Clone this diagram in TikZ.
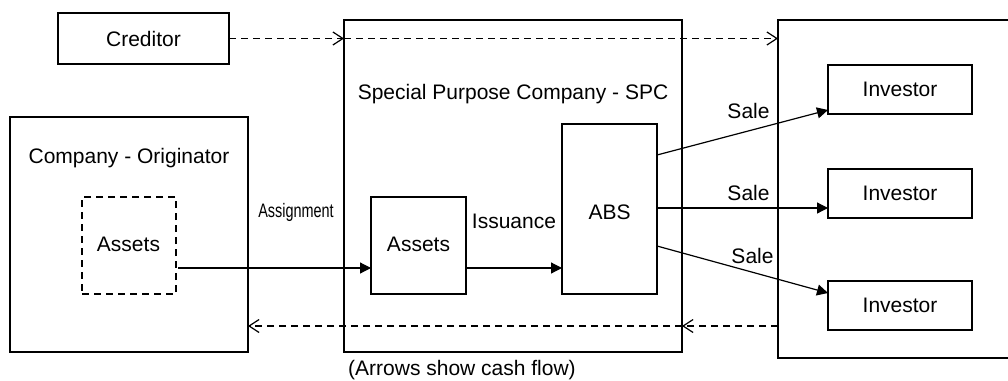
\documentclass[tikz,border=0pt]{standalone}
\usepackage{fontspec}
\setmainfont{Liberation Sans}
\usetikzlibrary{arrows.meta,calc}
\begin{document}
\begin{tikzpicture}[x=1pt,y=-1pt,
  every node/.style={font=\fontsize{21}{25}\selectfont},
  box/.style={draw,line width=1.2pt,inner sep=0pt,outer sep=0pt},
  lbl/.style={anchor=base,inner sep=0pt},
  flow/.style={line width=1.2pt,-{Triangle[length=11pt,width=11pt]}},
  cash/.style={line width=1.2pt,dash pattern=on 7pt off 5pt,-{Straight Barb[length=10pt,width=13pt]}}]
\clip (0,0) rectangle (1008,380);
\useasboundingbox (0,0) rectangle (1008,380);
% boxes
\node[box,minimum width=171pt,minimum height=51pt] (cred) at (143.5,38.5) {Creditor};
\node[box,minimum width=238pt,minimum height=235pt] (orig) at (129,234.5) {};
\node[box,dash pattern=on 7pt off 5pt,minimum width=94pt,minimum height=97pt] (oassets) at (129,245.5) {};
\node[box,minimum width=338pt,minimum height=332pt] (spc) at (513,186) {};
\node[box,minimum width=95pt,minimum height=97pt] (sassets) at (418.5,245.5) {};
\node[box,minimum width=95pt,minimum height=170pt] (abs) at (609.5,209) {};
\node[box,minimum width=260pt,minimum height=338pt] (inv) at (908,189) {};
\node[box,minimum width=144pt,minimum height=49pt] (inv1) at (900,89.5) {Investor};
\node[box,minimum width=144pt,minimum height=49pt] (inv2) at (900,193.5) {Investor};
\node[box,minimum width=144pt,minimum height=49pt] (inv3) at (900,305.5) {Investor};
% texts
\node[lbl] (origt) at (129,163) {Company - Originator};
\node[lbl] (oassetst) at (128.5,251) {Assets};
\node[lbl] (spct) at (513,99) {Special Purpose Company - SPC};
\node[lbl] (sassetst) at (418.5,251) {Assets};
\node[lbl] (abst) at (609.5,219) {ABS};
\node[lbl] (iss) at (514,228) {Issuance};
\node[lbl,xscale=0.74,font=\fontsize{19.5}{23}\selectfont] (asg) at (296,217) {Assignment};
\node[lbl] (sale1) at (748.5,118) {Sale};
\node[lbl] (sale2) at (748.5,200) {Sale};
\node[lbl] (sale3) at (752.5,263) {Sale};
\node[lbl] (cap) at (462,375) {(Arrows show cash flow)};
% coordinates for cash flow arrows
\coordinate (spcTL) at (spc.west |- cred.east);
\coordinate (invTL) at (inv.west |- cred.east);
\coordinate (invBL) at ($(inv.west)+(0,137)$);
\coordinate (spcBR) at (spc.east |- invBL);
\coordinate (origBR) at (orig.east |- invBL);
% flows
\draw[flow] ([xshift=2pt,yshift=-22.5pt]oassets.east) -- ([yshift=-22.5pt]sassets.west);
\draw[flow] ([yshift=-22.5pt]sassets.east) -- ([yshift=-22.5pt]sassets.east -| abs.west);
\draw[flow] ([yshift=54pt]abs.east) -- ([yshift=-20.5pt]inv1.west);
\draw[flow] ([yshift=1pt]abs.east) -- ([yshift=-14.5pt]inv2.west);
\draw[flow] ([yshift=-37pt]abs.east) -- ([yshift=12.5pt]inv3.west);
% cash flows
\draw[cash] (cred.east) -- (spcTL);
\draw[cash] (spcTL) -- (invTL);
\draw[cash] (invBL) -- (spcBR);
\draw[cash] (spcBR) -- (origBR);
\end{tikzpicture}
\end{document}
